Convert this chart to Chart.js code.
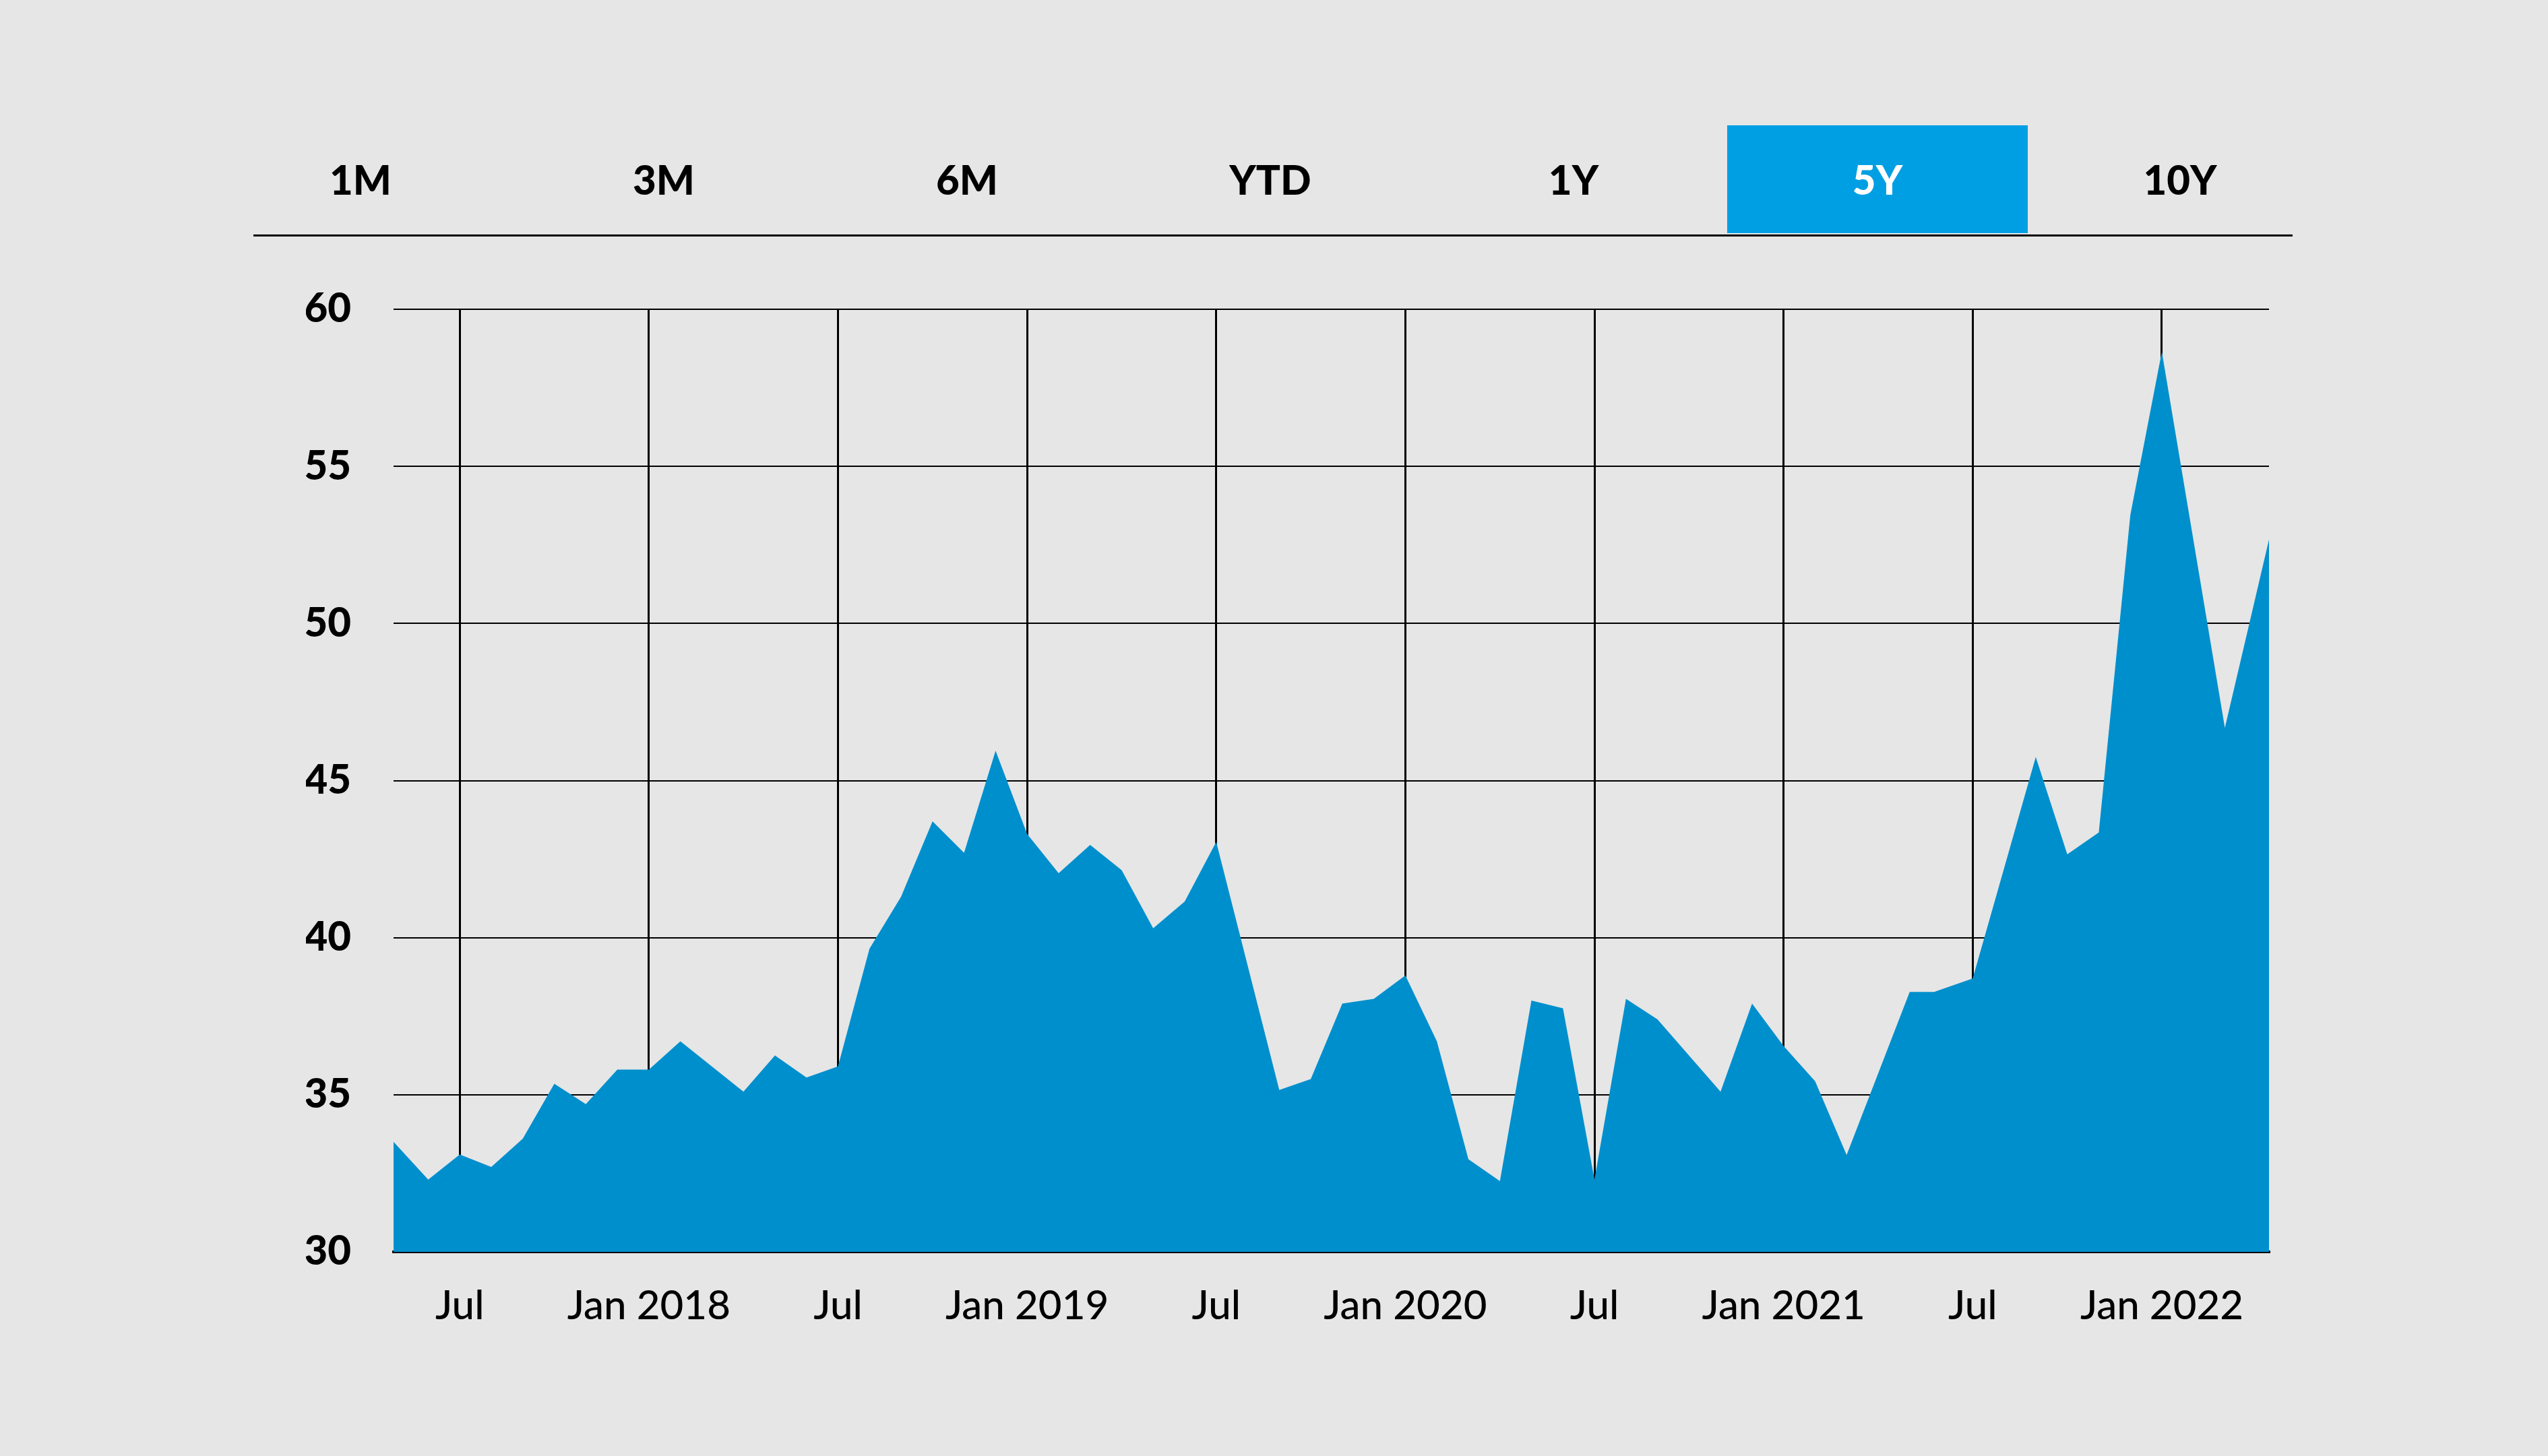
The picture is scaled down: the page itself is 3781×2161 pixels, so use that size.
<!DOCTYPE html>
<html>
<head>
<meta charset="utf-8">
<script src="https://cdn.jsdelivr.net/npm/chart.js@4.4.1/dist/chart.umd.min.js"></script>
<style>
  html, body { margin: 0; padding: 0; background: #e6e6e6; }
  body { width: 3781px; height: 2161px; position: relative; overflow: hidden; font-family: Lato, "Noto Sans", sans-serif; }
  #chart { position: absolute; left: 0; top: 0; }
  .btn { position: absolute; top: 186px; width: 450px; height: 160px; display: flex; align-items: center; justify-content: center;
         font-family: Lato, sans-serif; font-weight: 900; font-size: 60px; color: #000; }
  .btn.active { background: #009fe3; color: #fff; width: 446px; }
  #rule { position: absolute; left: 376px; top: 348px; width: 3026px; height: 3px; background: #000; }
</style>
</head>
<body>
<div id="header"></div>
<div id="rule"></div>
<canvas id="chart" width="3781" height="2161"></canvas>
<script>
// ---- data ----
const rangeButtons = ["1M", "3M", "6M", "YTD", "1Y", "5Y", "10Y"];
const activeRange = "5Y";

const dates = [
  "2017-04-28","2017-06-01","2017-07-01","2017-08-01","2017-09-01","2017-10-01","2017-11-01","2017-12-01",
  "2018-01-01","2018-02-01","2018-04-01","2018-05-01","2018-06-01","2018-07-01","2018-08-01","2018-09-01",
  "2018-10-01","2018-11-01","2018-12-01","2019-01-01","2019-02-01","2019-03-01","2019-04-01","2019-05-01",
  "2019-06-01","2019-07-01","2019-09-01","2019-10-01","2019-11-01","2019-12-01","2020-01-01","2020-02-01",
  "2020-03-01","2020-04-01","2020-05-01","2020-06-01","2020-07-01","2020-08-01","2020-09-01","2020-11-01",
  "2020-12-01","2021-01-01","2021-02-01","2021-03-01","2021-05-01","2021-05-25","2021-07-01","2021-09-01",
  "2021-10-01","2021-11-01","2021-12-01","2022-01-01","2022-03-01","2022-04-13"
];
const values = [
  33.5, 32.3, 33.1, 32.7, 33.6, 35.35, 34.7, 35.8,
  35.8, 36.7, 35.1, 36.25, 35.55, 35.9, 39.65, 41.3,
  43.7, 42.7, 45.95, 43.3, 42.05, 42.95, 42.15, 40.3,
  41.15, 43.05, 35.15, 35.5, 37.9, 38.05, 38.8, 36.7,
  32.95, 32.25, 38.0, 37.75, 32.3, 38.05, 37.4, 35.1,
  37.9, 36.55, 35.43, 33.08, 38.27, 38.27, 38.7, 45.75,
  42.65, 43.35, 53.45, 58.65, 46.68, 52.67
];

const xTickDates  = ["2017-07-01","2018-01-01","2018-07-01","2019-01-01","2019-07-01","2020-01-01","2020-07-01","2021-01-01","2021-07-01","2022-01-01"];
const xTickLabels = ["Jul","Jan 2018","Jul","Jan 2019","Jul","Jan 2020","Jul","Jan 2021","Jul","Jan 2022"];
const yTicks = [30, 35, 40, 45, 50, 55, 60];

// ---- helpers ----
function monthPos(s) {
  const [y, m, d] = s.split("-").map(Number);
  const dim = new Date(y, m, 0).getDate();
  return (y - 2017) * 12 + (m - 1) + (d - 1) / dim;
}

// header
const header = document.getElementById("header");
rangeButtons.forEach((t, i) => {
  const el = document.createElement("div");
  el.className = "btn" + (t === activeRange ? " active" : "");
  el.style.left = (t === activeRange ? 312 + i * 450 + 1 : 310 + i * 450) + "px";
  el.textContent = t;
  header.appendChild(el);
});

const points = dates.map((d, i) => ({ x: monthPos(d), y: values[i] }));
const xTickVals = xTickDates.map(monthPos);

const FONT = "Lato, 'Noto Sans', sans-serif";

new Chart(document.getElementById("chart"), {
  type: "line",
  data: {
    datasets: [{
      data: points,
      fill: "start",
      backgroundColor: "#008fcd",
      borderWidth: 0,
      pointRadius: 0,
      tension: 0
    }]
  },
  options: {
    responsive: false,
    animation: false,
    events: [],
    layout: { padding: { left: 454, right: 414, top: 459, bottom: 0 } },
    plugins: { legend: { display: false }, tooltip: { enabled: false } },
    scales: {
      x: {
        type: "linear",
        min: points[0].x,
        max: points[points.length - 1].x,
        z: 1,
        afterBuildTicks: s => { s.ticks = xTickVals.map(v => ({ value: v })); },
        afterFit: s => { s.height = 2161 - 1858; },
        ticks: {
          autoSkip: false, maxRotation: 0, padding: 45,
          color: "#000",
          font: { family: FONT, size: 60, weight: "500" },
          callback: (v, i) => xTickLabels[i]
        },
        grid: { color: "#000", lineWidth: 3, drawTicks: false },
        border: { display: true, color: "#000", width: 4 }
      },
      y: {
        min: yTicks[0], max: yTicks[yTicks.length - 1],
        z: 1,
        afterBuildTicks: s => { s.ticks = yTicks.map(v => ({ value: v })); },
        afterFit: s => { s.width = 130; },
        ticks: {
          padding: 63, color: "#000",
          font: { family: FONT, size: 60, weight: "900" }
        },
        grid: { color: "#000", lineWidth: 2, drawTicks: false },
        border: { display: false }
      }
    }
  }
});
</script>
</body>
</html>
